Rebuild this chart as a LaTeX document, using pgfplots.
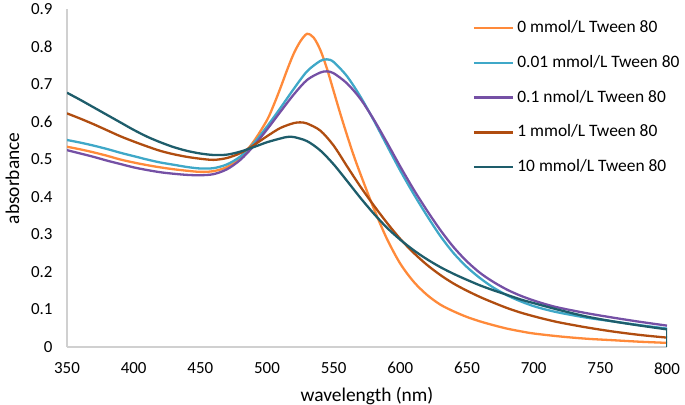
\documentclass[border=0pt]{standalone}
\usepackage{pgfplots}
\pgfplotsset{compat=1.18}
\usepackage{fontspec}
\setmainfont{Carlito}
\definecolor{cOrange}{HTML}{FF8A3A}
\definecolor{cCyan}{HTML}{3FA8C8}
\definecolor{cPurple}{HTML}{7550A5}
\definecolor{cBrown}{HTML}{B04D10}
\definecolor{cTeal}{HTML}{1E5D6B}
\definecolor{axgray}{HTML}{D0D0D0}
\begin{document}
\begin{tikzpicture}
\path[use as bounding box] (0,0) rectangle (685bp,405bp);
\begin{axis}[
  at={(67bp,58bp)}, anchor=south west,
  scale only axis, width=600bp, height=337.5bp,
  xmin=350, xmax=800, ymin=0, ymax=0.9,
  xtick={350,400,...,800},
  ytick={0,0.1,0.2,0.3,0.4,0.5,0.6,0.7,0.8,0.9},
  yticklabels={0,0.1,0.2,0.3,0.4,0.5,0.6,0.7,0.8,0.9},
  axis x line*=bottom, axis y line*=left,
  axis line style={draw=axgray, line width=1.3bp, -},
  major tick length=0pt,
  /pgf/number format/assume math mode=true,
  ticklabel style={font=\fontsize{17}{20}\selectfont},
  xticklabel style={yshift=-12bp},
  yticklabel style={xshift=-11bp},
  xlabel={wavelength (nm)},
  ylabel={absorbance},
  label style={font=\fontsize{19.5}{22}\selectfont},
  xlabel style={at={(axis description cs:0.5,-0.16)}, anchor=base},
  ylabel style={at={(axis description cs:-0.091,0.5)}, anchor=center, rotate=0},
  every axis plot/.append style={line width=2.3bp, smooth, no markers},
  legend cell align=left,
  legend image code/.code={\draw[#1, line width=2.3bp, smooth=false] (0bp,0bp) -- (39bp,0bp);},
  legend style={at={(axis description cs:0.676,0.968)}, anchor=north west, draw=none, fill=none, inner sep=0pt,
    font=\fontsize{17.5}{20}\selectfont, row sep=19.8bp, column sep=3.3bp,
    nodes={inner sep=0pt, text height=12bp, text depth=3bp}},
]
\addplot[color=cOrange] coordinates {
(350,0.534)(360,0.527)(370,0.519)(380,0.510)(390,0.500)(400,0.492)(410,0.485)(420,0.479)(430,0.474)(440,0.470)(450,0.467)(460,0.469)(470,0.480)(480,0.505)(490,0.548)(500,0.605)(505,0.645)(510,0.690)(515,0.738)(520,0.782)(525,0.815)(530,0.835)(535,0.825)(540,0.792)(545,0.742)(550,0.682)(555,0.622)(560,0.565)(565,0.511)(570,0.462)(580,0.370)(590,0.288)(600,0.222)(610,0.174)(620,0.139)(630,0.113)(640,0.095)(650,0.080)(660,0.068)(670,0.058)(680,0.049)(690,0.042)(700,0.036)(720,0.028)(740,0.022)(760,0.018)(780,0.014)(800,0.011)};
\addlegendentry{0 mmol/L Tween 80}
\addplot[color=cCyan] coordinates {
(350,0.552)(360,0.545)(370,0.537)(380,0.528)(390,0.518)(400,0.509)(410,0.500)(420,0.492)(430,0.486)(440,0.480)(450,0.476)(460,0.477)(470,0.487)(480,0.508)(490,0.543)(500,0.588)(510,0.637)(520,0.688)(530,0.735)(540,0.763)(545,0.767)(550,0.760)(560,0.722)(570,0.668)(580,0.605)(590,0.537)(600,0.470)(610,0.408)(620,0.350)(630,0.296)(640,0.250)(650,0.213)(660,0.183)(670,0.158)(680,0.138)(690,0.122)(700,0.109)(710,0.099)(720,0.091)(740,0.078)(760,0.068)(780,0.058)(800,0.049)};
\addlegendentry{0.01 mmol/L Tween 80}
\addplot[color=cPurple] coordinates {
(350,0.525)(360,0.516)(370,0.507)(380,0.497)(390,0.488)(400,0.479)(410,0.472)(420,0.466)(430,0.462)(440,0.459)(450,0.458)(460,0.461)(470,0.474)(480,0.499)(490,0.536)(500,0.580)(510,0.627)(520,0.673)(530,0.712)(540,0.732)(545,0.735)(550,0.730)(560,0.703)(570,0.662)(580,0.607)(590,0.545)(600,0.481)(610,0.420)(620,0.364)(630,0.312)(640,0.266)(650,0.228)(660,0.197)(670,0.173)(680,0.153)(690,0.137)(700,0.124)(710,0.113)(720,0.104)(740,0.090)(760,0.078)(780,0.067)(800,0.057)};
\addlegendentry{0.1 nmol/L Tween 80}
\addplot[color=cBrown] coordinates {
(350,0.623)(360,0.609)(370,0.594)(380,0.578)(390,0.562)(400,0.548)(410,0.535)(420,0.523)(430,0.514)(440,0.507)(450,0.502)(460,0.499)(470,0.504)(480,0.517)(490,0.538)(500,0.562)(510,0.584)(520,0.597)(525,0.599)(530,0.596)(540,0.577)(550,0.537)(560,0.482)(570,0.428)(580,0.378)(590,0.331)(600,0.288)(610,0.251)(620,0.219)(630,0.192)(640,0.169)(650,0.150)(660,0.133)(670,0.118)(680,0.104)(690,0.092)(700,0.082)(710,0.073)(720,0.065)(740,0.052)(760,0.041)(780,0.032)(800,0.025)};
\addlegendentry{1 mmol/L Tween 80}
\addplot[color=cTeal] coordinates {
(350,0.678)(360,0.659)(370,0.639)(380,0.619)(390,0.599)(400,0.579)(410,0.561)(420,0.546)(430,0.533)(440,0.523)(450,0.516)(460,0.512)(470,0.513)(480,0.521)(490,0.533)(500,0.546)(510,0.556)(515,0.560)(520,0.560)(530,0.549)(540,0.524)(550,0.487)(560,0.443)(570,0.398)(580,0.356)(590,0.318)(600,0.286)(610,0.258)(620,0.234)(630,0.213)(640,0.195)(650,0.179)(660,0.164)(670,0.151)(680,0.139)(690,0.127)(700,0.117)(720,0.098)(740,0.081)(760,0.068)(780,0.057)(800,0.047)};
\addlegendentry{10 mmol/L Tween 80}
\addplot[color=cTeal, forget plot, line width=1.5bp] coordinates {(800,0.047)(800,0.0)};
\end{axis}
\end{tikzpicture}
\end{document}
